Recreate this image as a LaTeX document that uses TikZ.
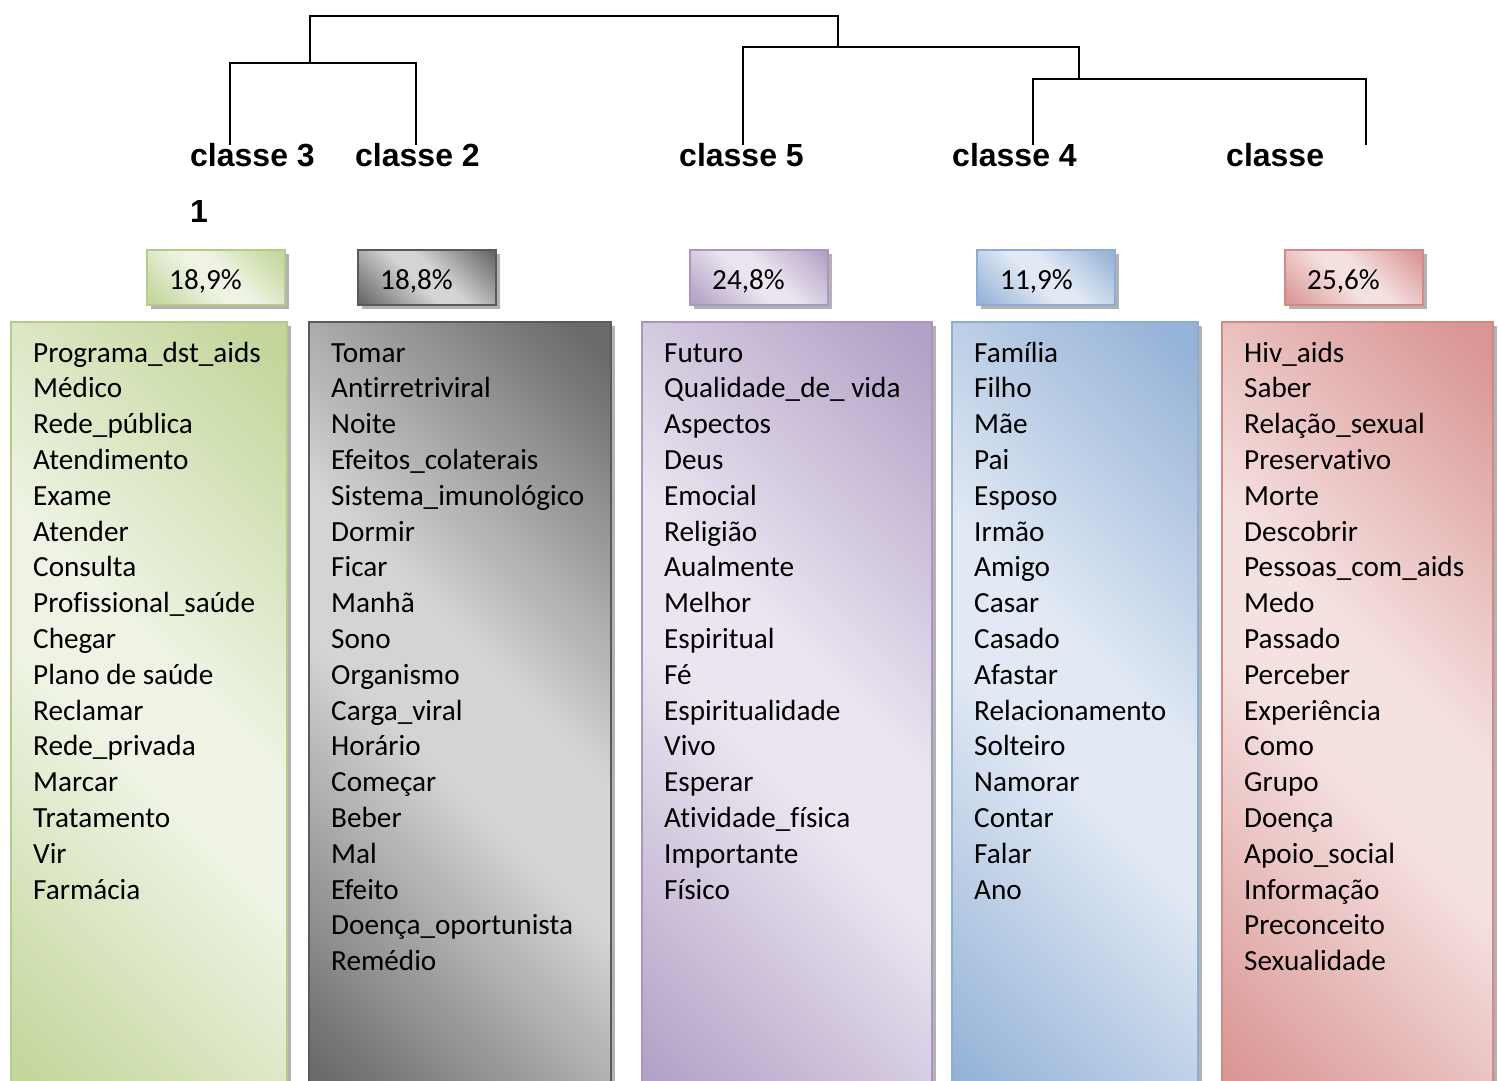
\documentclass[tikz,border=0pt]{standalone}
\usepackage{fontspec}
\setmainfont{Carlito}[Ligatures={NoCommon}]
\newfontfamily\lblfont{Liberation Sans}
\usetikzlibrary{shadows}
\definecolor{grD}{HTML}{C3D69B}\definecolor{grL}{HTML}{EEF3E3}\definecolor{grB}{HTML}{B5CB8C}
\definecolor{gyD}{HTML}{6A6A6A}\definecolor{gyL}{HTML}{D4D4D4}\definecolor{gyB}{HTML}{5A5A5A}
\definecolor{puD}{HTML}{B3A2C7}\definecolor{puL}{HTML}{EAE5F0}\definecolor{puB}{HTML}{A898C0}
\definecolor{blD}{HTML}{95B3D7}\definecolor{blL}{HTML}{E1E9F4}\definecolor{blB}{HTML}{8EADD4}
\definecolor{rdD}{HTML}{D99694}\definecolor{rdL}{HTML}{F5E1E0}\definecolor{rdB}{HTML}{D08A88}
\pgfdeclarehorizontalshading{shgr}{100bp}{color(0bp)=(grD); color(17bp)=(grD); color(45bp)=(grL); color(55bp)=(grL); color(83bp)=(grD); color(100bp)=(grD)}
\pgfdeclarehorizontalshading{shgy}{100bp}{color(0bp)=(gyD); color(17bp)=(gyD); color(45bp)=(gyL); color(55bp)=(gyL); color(83bp)=(gyD); color(100bp)=(gyD)}
\pgfdeclarehorizontalshading{shpu}{100bp}{color(0bp)=(puD); color(17bp)=(puD); color(45bp)=(puL); color(55bp)=(puL); color(83bp)=(puD); color(100bp)=(puD)}
\pgfdeclarehorizontalshading{shbl}{100bp}{color(0bp)=(blD); color(17bp)=(blD); color(45bp)=(blL); color(55bp)=(blL); color(83bp)=(blD); color(100bp)=(blD)}
\pgfdeclarehorizontalshading{shrd}{100bp}{color(0bp)=(rdD); color(17bp)=(rdD); color(45bp)=(rdL); color(55bp)=(rdL); color(83bp)=(rdD); color(100bp)=(rdD)}
\tikzset{
  box/.style={rectangle, line width=2pt, inner sep=0pt, outer sep=0pt, anchor=north west, shading angle=45,
    drop shadow={shadow xshift=4pt, shadow yshift=-4pt, fill=black, opacity=0.3}},
  bigbox/.style={box, minimum height=780pt},
  pctbox/.style={box, minimum width=138pt, minimum height=55pt},
  item/.style={inner sep=0pt, anchor=base west, font=\fontsize{29.2}{35.8}\selectfont},
  lbl/.style={inner sep=0pt, anchor=base west, font=\lblfont\bfseries\fontsize{32}{38}\selectfont},
  tree/.style={line width=2pt, black}
}
\begin{document}
\begin{tikzpicture}[x=1pt,y=-1pt]
\useasboundingbox (0,0) rectangle (1498,1080);
% tree
\coordinate (t3) at (230,145);
\coordinate (t2) at (416,145);
\coordinate (t5) at (743,145);
\coordinate (t4) at (1033,145);
\coordinate (t1) at (1366,145);
\coordinate (j32) at (310,63);
\coordinate (j41) at (1079,79);
\coordinate (j541) at (838,47);
\coordinate (top) at (574,16);
\draw[tree] (t3) |- (j32);
\draw[tree] (t2) |- (j32);
\draw[tree] (t4) |- (j41);
\draw[tree] (t1) |- (j41);
\draw[tree] (j41) |- (j541);
\draw[tree] (t5) |- (j541);
\draw[tree] (j32) |- (top);
\draw[tree] (j541) |- (top);
% labels
\node[lbl] (c3) at (190,166) {classe 3};
\node[lbl] (c1) at (190,222) {1};
\node[lbl] (c2) at (355,166) {classe 2};
\node[lbl] (c5) at (679,166) {classe 5};
\node[lbl] (c4) at (952,166) {classe 4};
\node[lbl] (cx) at (1226,166) {classe};
% percent boxes
\node[pctbox, shading=shgr, draw=grB] (pgr) at (147,250) {};
\node[pctbox, shading=shgy, draw=gyB] (pgy) at (358,250) {};
\node[pctbox, shading=shpu, draw=puB] (ppu) at (690,250) {};
\node[pctbox, shading=shbl, draw=blB] (pbl) at (977,250) {};
\node[pctbox, shading=shrd, draw=rdB] (prd) at (1285,250) {};
\node[item] (tgr) at (169,289) {18,9\%};
\node[item] (tgy) at (380,289) {18,8\%};
\node[item] (tpu) at (712,289) {24,8\%};
\node[item] (tbl) at (1000,289) {11,9\%};
\node[item] (trd) at (1307,289) {25,6\%};
% big boxes
\node[bigbox, shading=shgr, draw=grB, minimum width=276pt] (bgr) at (11,322) {};
\node[bigbox, shading=shgy, draw=gyB, minimum width=302pt] (bgy) at (309,322) {};
\node[bigbox, shading=shpu, draw=puB, minimum width=290pt] (bpu) at (642,322) {};
\node[bigbox, shading=shbl, draw=blB, minimum width=246pt] (bbl) at (952,322) {};
\node[bigbox, shading=shrd, draw=rdB, minimum width=271pt] (brd) at (1222,322) {};
% lists
\foreach \w [count=\i] in {Programa\_dst\_aids, Médico, Rede\_pública, Atendimento, Exame, Atender, Consulta, Profissional\_saúde, Chegar, Plano de saúde, Reclamar, Rede\_privada, Marcar, Tratamento, Vir, Farmácia}
  \node[item] (g\i) at (33,{362+35.8*(\i-1)}) {\w};
\foreach \w [count=\i] in {Tomar, Antirretriviral, Noite, Efeitos\_colaterais, Sistema\_imunológico, Dormir, Ficar, Manhã, Sono, Organismo, Carga\_viral, Horário, Começar, Beber, Mal, Efeito, Doença\_oportunista, Remédio}
  \node[item] (y\i) at (331,{362+35.8*(\i-1)}) {\w};
\foreach \w [count=\i] in {Futuro, Qualidade\_de\_ vida, Aspectos, Deus, Emocial, Religião, Aualmente, Melhor, Espiritual, Fé, Espiritualidade, Vivo, Esperar, Atividade\_física, Importante, Físico}
  \node[item] (p\i) at (664,{362+35.8*(\i-1)}) {\w};
\foreach \w [count=\i] in {Família, Filho, Mãe, Pai, Esposo, Irmão, Amigo, Casar, Casado, Afastar, Relacionamento, Solteiro, Namorar, Contar, Falar, Ano}
  \node[item] (b\i) at (974,{362+35.8*(\i-1)}) {\w};
\foreach \w [count=\i] in {Hiv\_aids, Saber, Relação\_sexual, Preservativo, Morte, Descobrir, Pessoas\_com\_aids, Medo, Passado, Perceber, Experiência, Como, Grupo, Doença, Apoio\_social, Informação, Preconceito, Sexualidade}
  \node[item] (r\i) at (1244,{362+35.8*(\i-1)}) {\w};
\end{tikzpicture}
\end{document}
